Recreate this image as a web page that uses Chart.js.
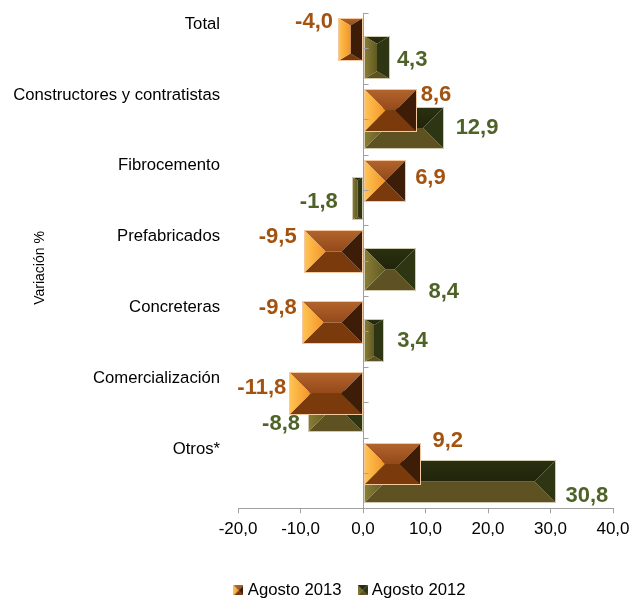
<!DOCTYPE html>
<html>
<head>
<meta charset="utf-8">
<script src="https://cdn.jsdelivr.net/npm/chart.js@4"></script>
<style>
  html, body { margin: 0; padding: 0; background: #fff; }
  #wrap { width: 643px; height: 601px; }
</style>
</head>
<body>
<div id="wrap"><canvas id="grafico"></canvas></div>
<script>
// Variación % por segmento
const categorias = ['Total', 'Constructores y contratistas', 'Fibrocemento', 'Prefabricados', 'Concreteras', 'Comercialización', 'Otros*'];
const agosto2013 = [-4.0, 8.6, 6.9, -9.5, -9.8, -11.8, 9.2];
const agosto2012 = [4.3, 12.9, -1.8, 8.4, 3.4, -8.8, 30.8];
const ticksX = [-20, -10, 0, 10, 20, 30, 40];

// desplazamiento de cada etiqueta de valor respecto al extremo de su barra [dx, dy]
const ajuste2013 = [[-5, -18], [4, -15], [9, -3], [-7, -15], [-5, -15], [-3, -5], [12, -23]];
const ajuste2012 = [[7, 3], [12, 0], [-14, 3], [13, 22], [13, 1], [-8, 13], [10, 14]];

const FUENTE = '"Liberation Sans", Arial, sans-serif';

// colores de las caras biseladas
const paletaNaranja = {
  izq: ['#ffc654', '#f39427'], sup: ['#b3652c', '#94491a'], inf: '#7b3a0b',
  der: '#3e1d08', borde: '#f3c9a2', texto: '#a3520f'
};
const paletaVerde = {
  izq: ['#8b7d35', '#5f5a22'], sup: ['#2b3010', '#20250b'], inf: '#5e5223',
  der: '#2d3513', borde: '#cfcab0', texto: '#4f6228'
};

function poligono(ctx, pts, fill) {
  ctx.beginPath();
  ctx.moveTo(pts[0][0], pts[0][1]);
  for (let i = 1; i < pts.length; i++) ctx.lineTo(pts[i][0], pts[i][1]);
  ctx.closePath();
  ctx.fillStyle = fill;
  ctx.fill();
}

// barra con bisel tipo pirámide
function dibujarBisel(ctx, L, T, R, B, p, conBorde) {
  const w = R - L, h = B - T;
  let dh, dv;
  if (w >= h) { dh = h / 2; dv = h / 2; }
  else { dh = w / 2; dv = Math.min(h / 2, w * 0.3); }
  const iL = L + dh, iR = R - dh, iT = T + dv, iB = B - dv;

  const gIzq = ctx.createLinearGradient(L, 0, iL, 0);
  gIzq.addColorStop(0, p.izq[0]);
  gIzq.addColorStop(1, p.izq[1]);
  const gSup = ctx.createLinearGradient(0, T, 0, iT);
  gSup.addColorStop(0, p.sup[0]);
  gSup.addColorStop(1, p.sup[1]);

  poligono(ctx, [[L, B], [R, B], [iR, iB], [iL, iB]], p.inf);
  poligono(ctx, [[L, T], [R, T], [iR, iT], [iL, iT]], gSup);
  poligono(ctx, [[R, T], [R, B], [iR, iB], [iR, iT]], p.der);
  poligono(ctx, [[L, T], [iL, iT], [iL, iB], [L, B]], gIzq);
  if (iB > iT && iR > iL) {
    ctx.fillStyle = p.sup[1];
    ctx.fillRect(iL, iT, iR - iL, iB - iT);
  }
  if (conBorde) {
    ctx.strokeStyle = p.borde;
    ctx.lineWidth = 1;
    ctx.strokeRect(L + 0.5, T + 0.5, w - 1, h - 1);
  }
}

function iconoLeyenda(p) {
  const c = document.createElement('canvas');
  c.width = 10; c.height = 10;
  dibujarBisel(c.getContext('2d'), 0, 0, 10, 10, p, false);
  return c;
}
const iconos = [iconoLeyenda(paletaNaranja), iconoLeyenda(paletaVerde)];
const paletas = [paletaNaranja, paletaVerde];
const ajustes = [ajuste2013, ajuste2012];

const fmt = v => v.toFixed(1).replace('.', ',');

const barrasBiseladas = {
  id: 'barrasBiseladas',
  afterLayout(chart) {
    // la leyenda va centrada bajo el área de valores
    const lg = chart.legend;
    const h = lg.height;
    lg.left += 45; lg.right += 45;
    lg.top = 562; lg.bottom = 562 + h;
  },
  afterDatasetDraw(chart, args) {
    const ctx = chart.ctx;
    const p = paletas[args.index];
    ctx.save();
    args.meta.data.forEach(bar => {
      const { x, y, base, height } = bar.getProps(['x', 'y', 'base', 'height'], true);
      const L = Math.round(Math.min(x, base)), R = Math.round(Math.max(x, base));
      const T = Math.round(y - height / 2), B = Math.round(y + height / 2);
      dibujarBisel(ctx, L, T, R, B, p, true);
    });
    ctx.restore();
  },
  afterDatasetsDraw(chart) {
    const ctx = chart.ctx;
    const xs = chart.scales.x, ys = chart.scales.y;
    const x0 = Math.round(xs.getPixelForValue(0)) + 0.5;

    // eje vertical en cero con marcas
    ctx.save();
    ctx.strokeStyle = '#a0a0a0';
    ctx.lineWidth = 1;
    ctx.beginPath();
    ctx.moveTo(x0, ys.top);
    ctx.lineTo(x0, ys.bottom);
    const paso = (ys.bottom - ys.top) / categorias.length / 2;
    for (let k = 0; k < categorias.length * 2; k++) {
      const yy = Math.round(ys.top + k * paso) + 0.5;
      ctx.moveTo(x0, yy);
      ctx.lineTo(x0 + 5, yy);
    }
    ctx.stroke();

    // etiquetas de valor
    ctx.font = 'bold 22px ' + FUENTE;
    ctx.textBaseline = 'middle';
    chart.data.datasets.forEach((ds, di) => {
      const meta = chart.getDatasetMeta(di);
      ctx.fillStyle = paletas[di].texto;
      meta.data.forEach((bar, i) => {
        const v = ds.data[i];
        const [dx, dy] = ajustes[di][i];
        ctx.textAlign = v < 0 ? 'right' : 'left';
        ctx.fillText(fmt(v), bar.x + dx, bar.y + dy);
      });
    });

    // título del eje
    ctx.translate(40, 268);
    ctx.rotate(-Math.PI / 2);
    ctx.font = '14px ' + FUENTE;
    ctx.fillStyle = '#000';
    ctx.textAlign = 'center';
    ctx.fillText('Variación %', 0, 0);
    ctx.restore();
  }
};

new Chart(document.getElementById('grafico'), {
  type: 'bar',
  data: {
    labels: categorias,
    datasets: [
      { label: 'Agosto 2013', data: agosto2013, backgroundColor: 'rgba(0,0,0,0)', borderWidth: 0,
        categoryPercentage: 0.5, barPercentage: 2.42 },
      { label: 'Agosto 2012', data: agosto2012, backgroundColor: 'rgba(0,0,0,0)', borderWidth: 0,
        categoryPercentage: 0.5, barPercentage: 2.42 }
    ]
  },
  options: {
    indexAxis: 'y',
    responsive: true,
    maintainAspectRatio: false,
    animation: false,
    layout: { padding: { left: 0, right: 30, top: 13, bottom: 0 } },
    plugins: {
      tooltip: { enabled: false },
      legend: {
        position: 'bottom',
        labels: {
          usePointStyle: true,
          boxWidth: 2,
          boxHeight: 10,
          padding: 20,
          color: '#000',
          font: { family: FUENTE, size: 16.7 },
          generateLabels(chart) {
            const items = Chart.defaults.plugins.legend.labels.generateLabels(chart);
            items.forEach((it, i) => { it.pointStyle = iconos[i]; });
            return items;
          }
        }
      }
    },
    scales: {
      x: {
        min: ticksX[0],
        max: ticksX[ticksX.length - 1],
        afterBuildTicks(scale) { scale.ticks = ticksX.map(v => ({ value: v })); },
        afterFit(scale) { scale.height = 46; },
        grid: { drawOnChartArea: false, drawTicks: true, tickLength: 5, color: '#a0a0a0' },
        border: { display: true, color: '#a0a0a0' },
        ticks: {
          padding: 6,
          color: '#000',
          font: { family: FUENTE, size: 17 },
          maxRotation: 0,
          callback: v => fmt(v)
        }
      },
      y: {
        afterFit(scale) {
          scale.width = 238;
          scale.paddingTop = 0;
          scale.paddingBottom = 0;
        },
        grid: { display: false, drawTicks: false },
        border: { display: false },
        ticks: {
          padding: 18,
          labelOffset: -24,
          color: '#000',
          font: { family: FUENTE, size: 16.7 }
        }
      }
    }
  },
  plugins: [barrasBiseladas]
});
</script>
</body>
</html>
